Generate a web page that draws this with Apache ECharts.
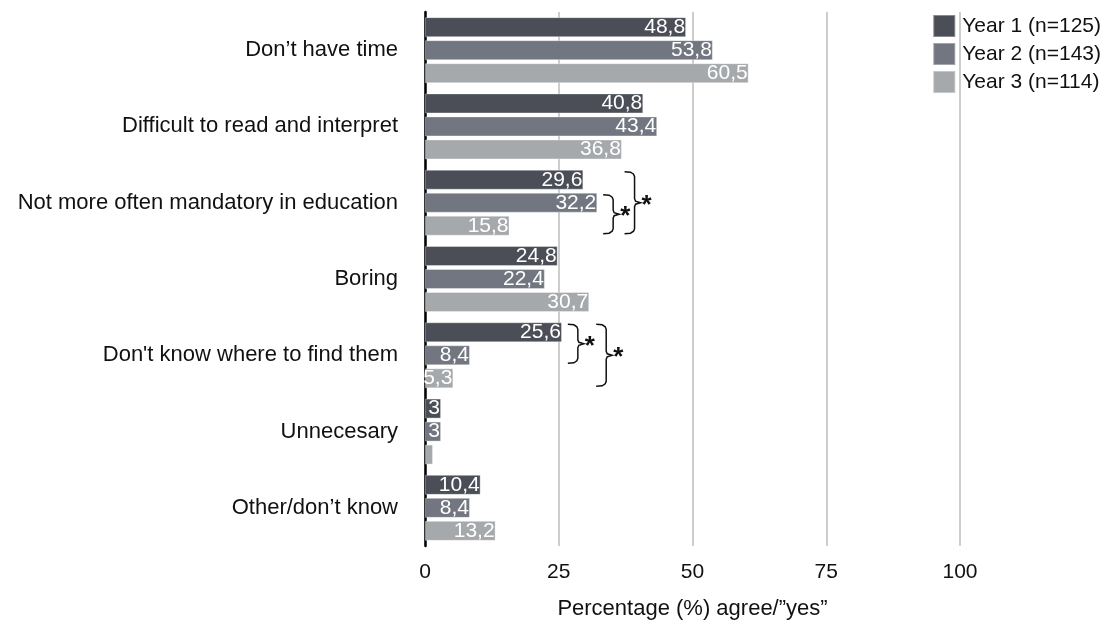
<!DOCTYPE html>
<html>
<head>
<meta charset="utf-8">
<script src="https://cdn.jsdelivr.net/npm/echarts@6/dist/echarts.min.js"></script>
<style>
  html,body{margin:0;padding:0;background:#fff;}
  #main{width:1110px;height:625px;}
</style>
</head>
<body>
<div id="main"></div>
<script>
var categories = ['Don\u2019t have time','Difficult to read and interpret','Not more often mandatory in education','Boring','Don\'t know where to find them','Unnecesary','Other/don\u2019t know'];
var seriesNames = ['Year 1 (n=125)','Year 2 (n=143)','Year 3 (n=114)'];
var year1 = [48.8, 40.8, 29.6, 24.8, 25.6, 3, 10.4];
var year2 = [53.8, 43.4, 32.2, 22.4, 8.4, 3, 8.4];
var year3 = [60.5, 36.8, 15.8, 30.7, 5.3, 1.5, 13.2];
var xTicks = [0, 25, 50, 75, 100];
// significance brackets: category, first/last series, x position (data units)
var brackets = [
  {cat: 2, from: 1, to: 2, x: 33.3},
  {cat: 2, from: 0, to: 2, x: 37.3},
  {cat: 4, from: 0, to: 1, x: 26.7},
  {cat: 4, from: 0, to: 2, x: 32.0}
];

var colors = ['#4b4e56', '#727680', '#a6a9ac'];
var font = 'Liberation Sans, Arial, sans-serif';
var BAR_W = 20, BAR_GAP = 3;

var chart = echarts.init(document.getElementById('main'));

function fmt(v){ return String(v).replace('.', ','); }

var series = [year1, year2, year3].map(function(vals, i){
  return {
    name: seriesNames[i],
    type: 'bar',
    data: vals.map(function(v){
      var d = {value: v};
      if (v < 2) d.label = {show: false};
      return d;
    }),
    barWidth: BAR_W,
    barGap: (BAR_GAP / BAR_W * 100) + '%',
    itemStyle: {color: colors[i], borderColor: 'rgba(255,255,255,0.35)', borderWidth: 1},
    label: {
      show: true, position: 'insideRight', distance: 1,
      color: '#fff', fontFamily: font, fontSize: 21,
      formatter: function(p){ return fmt(p.value); }
    }
  };
});

var option = {
  animation: false,
  backgroundColor: '#fff',
  legend: {
    orient: 'vertical', right: 4, top: 9,
    itemWidth: 22, itemHeight: 22, itemGap: 4,
    icon: 'rect',
    textStyle: {fontFamily: font, fontSize: 21, color: '#111', padding: [0,0,0,2]},
    data: seriesNames
  },
  grid: {left: 425, right: 150, top: 12, bottom: 70},
  xAxis: {
    type: 'value', min: 0, max: 100, interval: 25,
    axisLine: {show: false}, axisTick: {show: false},
    splitLine: {lineStyle: {color: '#bdbdbd', width: 1.5}},
    axisLabel: {fontFamily: font, fontSize: 21, color: '#111', margin: 16,
      formatter: function(v){ return xTicks.indexOf(v) >= 0 ? String(v) : ''; }},
    name: 'Percentage (%) agree/\u201dyes\u201d',
    nameLocation: 'middle', nameGap: 52,
    nameTextStyle: {fontFamily: font, fontSize: 22, color: '#111'}
  },
  yAxis: {
    type: 'category', data: categories, inverse: true,
    axisLine: {lineStyle: {color: '#000', width: 2.5}},
    axisTick: {show: false},
    axisLabel: {fontFamily: font, fontSize: 22, color: '#111', margin: 27}
  },
  series: series
};
chart.setOption(option);

// brackets and asterisks, placed through the axis scales
var elems = [];
brackets.forEach(function(b){
  var c = chart.convertToPixel({yAxisIndex: 0}, categories[b.cat]);
  var x = chart.convertToPixel({xAxisIndex: 0}, b.x);
  var off = function(s){ return (s - 1) * (BAR_W + BAR_GAP); };
  var y1 = c + off(b.from) - BAR_W / 2 + 2;
  var y2 = c + off(b.to) + BAR_W / 2 - 2;
  var ym = (y1 + y2) / 2;
  var w = 10;
  // curly brace drawn as a polyline
  var pts = [
    [x, y1], [x + 6, y1 + 0.5], [x + 9, y1 + 2.5], [x + w, y1 + 5],
    [x + w, ym - 4], [x + w + 1, ym - 1.5], [x + w + 6, ym],
    [x + w + 1, ym + 1.5], [x + w, ym + 4],
    [x + w, y2 - 5], [x + 9, y2 - 2.5], [x + 6, y2 - 0.5], [x, y2]
  ];
  elems.push({
    type: 'polyline',
    shape: {points: pts},
    style: {stroke: '#111', lineWidth: 1.5, fill: null}
  });
  elems.push({
    type: 'text', x: x + w + 7, y: ym - 10,
    style: {text: '*', fontFamily: font, fontSize: 26, fontWeight: 'bold', fill: '#111'}
  });
});
chart.setOption({graphic: elems});
</script>
</body>
</html>
